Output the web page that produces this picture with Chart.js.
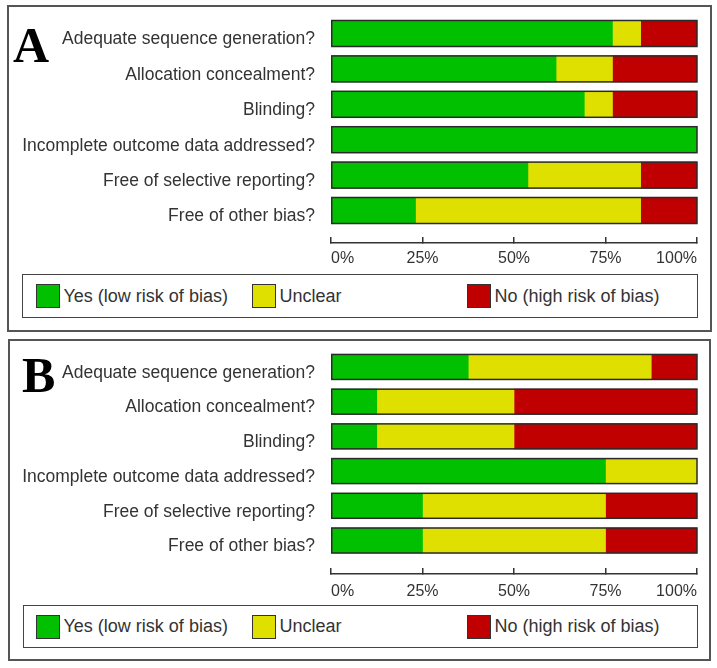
<!DOCTYPE html>
<html lang="en">
<head>
<meta charset="UTF-8">
<title>Risk of bias summary</title>
<script src="https://cdn.jsdelivr.net/npm/chart.js@4"></script>
<style>
  body { margin: 0; background: #fff; }
  #page { position: relative; width: 717px; height: 668px; overflow: hidden; }
  .panel { position: absolute; border: 2px solid #555; box-sizing: border-box; }
  .letter { position: absolute; font-family: 'Liberation Serif', 'Times New Roman', serif; font-weight: bold; font-size: 50px; line-height: 50px; color: #000; }
  canvas { position: absolute; left: 0; }
  .legend { position: absolute; border: 1.5px solid #444; box-sizing: border-box; }
  .item { position: absolute; top: 0; height: 100%; display: flex; align-items: center; white-space: nowrap;
          font-family: 'Liberation Sans Narrow', 'Arial Narrow', 'Liberation Sans', sans-serif; font-size: 18px; color: #333; }
  .swatch { width: 24px; height: 24px; border: 1.5px solid #333; box-sizing: border-box; margin-right: 4px; }
</style>
</head>
<body>
<div id="page">
  <div class="panel" style="left:7px; top:5px; width:705px; height:327px;"></div>
  <div class="panel" style="left:8px; top:339px; width:703px; height:322px;"></div>
  <div class="letter" style="left:13px; top:20px;">A</div>
  <div class="letter" style="left:22px; top:350px;">B</div>
  <canvas id="chartA" width="717" height="272" style="top:0px;"></canvas>
  <canvas id="chartB" width="717" height="266" style="top:334px;"></canvas>
  <div class="legend" id="legendA" style="left:22px; top:274px; width:676px; height:44px;"></div>
  <div class="legend" id="legendB" style="left:23px; top:605px; width:675px; height:43px;"></div>
</div>

<script>
// categorias y valores (% de estudios)
const categories = [
    'Adequate sequence generation?',
    'Allocation concealment?',
    'Blinding?',
    'Incomplete outcome data addressed?',
    'Free of selective reporting?',
    'Free of other bias?'
];
const seriesNames = ['Yes (low risk of bias)', 'Unclear', 'No (high risk of bias)'];
const seriesColors = ['#00c000', '#e0e000', '#c00000'];
const tickLabels = ['0%', '25%', '50%', '75%', '100%'];

// panel A
const yesA     = [76.9, 61.5, 69.2, 100, 53.8, 23.1];
const unclearA = [7.7, 15.4, 7.7, 0, 30.8, 61.5];
const noA      = [15.4, 23.1, 23.1, 0, 15.4, 15.4];

// panel B
const yesB     = [37.5, 12.5, 12.5, 75, 25, 25];
const unclearB = [50, 37.5, 37.5, 25, 50, 50];
const noB      = [12.5, 50, 50, 0, 25, 25];

// contorno negro alrededor de cada barra completa
const outline = {
    id: 'outline',
    afterDatasetsDraw(chart) {
        const ctx = chart.ctx;
        const metas = chart.getSortedVisibleDatasetMetas();
        ctx.save();
        ctx.strokeStyle = '#2a2a2a';
        ctx.lineWidth = 1.5;
        categories.forEach((c, i) => {
            let l = Infinity, r = -Infinity, t = 0, h = 0;
            metas.forEach(m => {
                const el = m.data[i];
                if (!el) return;
                const p = el.getProps(['x', 'base', 'y', 'height'], true);
                l = Math.min(l, p.base, p.x);
                r = Math.max(r, p.base, p.x);
                t = p.y - p.height / 2;
                h = p.height;
            });
            ctx.strokeRect(l, t, r - l, h);
        });
        ctx.restore();
    }
};

function drawPanel(id, values, box) {
    const datasets = values.map((vals, k) => ({
        label: seriesNames[k],
        data: vals.map((v, i) => ({ x: v, y: i })),
        backgroundColor: seriesColors[k],
        borderWidth: 0,
        barThickness: box.bar
    }));
    return new Chart(document.getElementById(id), {
        type: 'bar',
        data: { datasets: datasets },
        options: {
            indexAxis: 'y',
            responsive: false,
            animation: false,
            layout: { padding: { left: 0, right: 20, top: box.top, bottom: 0 } },
            plugins: { legend: { display: false }, tooltip: { enabled: false } },
            scales: {
                x: {
                    stacked: true, min: 0, max: 100,
                    afterFit: s => { s.height = box.h - box.axis; s.paddingLeft = 0; s.paddingRight = 0; },
                    border: { display: true, color: '#333', width: 1.5 },
                    grid: { drawOnChartArea: false, tickLength: -6, color: '#333', lineWidth: 1.5 },
                    ticks: {
                        stepSize: 25, align: 'inner', padding: box.tickPad, color: '#333',
                        font: { family: 'Liberation Sans', size: 16 },
                        callback: v => tickLabels[v / 25]
                    }
                },
                y: {
                    type: 'linear', stacked: true, reverse: true, offset: false, min: -0.5, max: box.max,
                    afterFit: s => { s.width = 331; s.paddingTop = 0; s.paddingBottom = 0; },
                    grid: { display: false, drawTicks: false, offset: false },
                    border: { display: false },
                    ticks: {
                        stepSize: 1, includeBounds: false, autoSkip: false, padding: 16, labelOffset: 6,
                        color: '#333', font: { family: 'Liberation Sans', size: 17.5 },
                        callback: v => categories[v]
                    }
                }
            }
        },
        plugins: [outline]
    });
}

// leyenda en html, con los colores de la grafica
function drawLegend(id, chart, left) {
    const box = document.getElementById(id);
    const itemX = [36, 252, 467];
    chart.data.datasets.forEach((d, k) => {
        const item = document.createElement('div');
        item.className = 'item';
        item.style.left = (itemX[k] - left - 1.5) + 'px';
        item.innerHTML = '<div class="swatch" style="background:' + d.backgroundColor + '"></div>';
        item.appendChild(document.createTextNode(d.label));
        box.appendChild(item);
    });
}

const chartA = drawPanel('chartA', [yesA, unclearA, noA], { top: 15.8, max: 5.918, bar: 26, h: 272, axis: 243, tickPad: 12 });
const chartB = drawPanel('chartB', [yesB, unclearB, noB], { top: 15.6, max: 5.965, bar: 25, h: 266, axis: 240, tickPad: 14 });
drawLegend('legendA', chartA, 22);
drawLegend('legendB', chartB, 23);
</script>
</body>
</html>
